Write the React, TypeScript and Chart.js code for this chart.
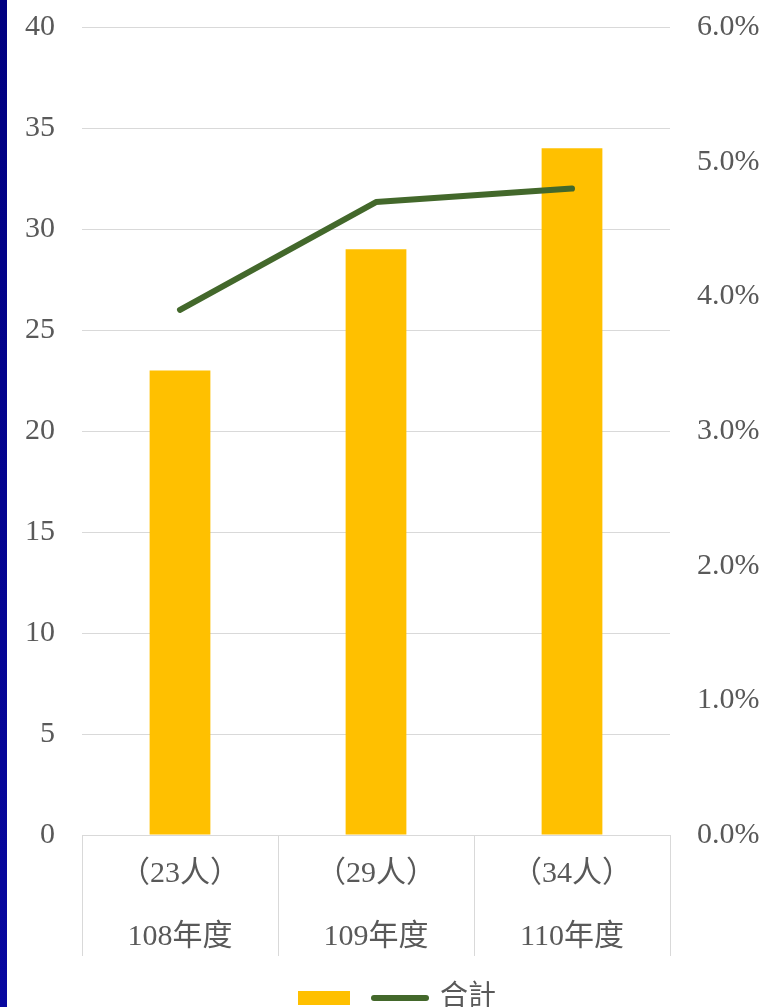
import React, { useEffect, useRef } from 'react';
import { Chart, registerables } from 'chart.js';

Chart.register(...registerables);

const years = ['108年度', '109年度', '110年度'];
const headcounts = [23, 29, 34];
const ratePercent = [3.9, 4.7, 4.8];
const lineLabel = '合計';
const leftMax = 40;
const leftStep = 5;
const rightMax = 6;
const rightStep = 1;

const FONT = "'Liberation Serif', 'Noto Sans CJK TC', serif";
const TEXT = '#595959';
const GRID = '#d9d9d9';
const BAR = '#ffc000';
const LINE = '#43682b';

export default function App() {
  const ref = useRef<HTMLCanvasElement | null>(null);

  useEffect(() => {
    if (!ref.current) return;
    const labels = years.map((y, i) => [`（${headcounts[i]}人）`, y]);
    const chart = new Chart(ref.current, {
      type: 'bar',
      data: {
        labels,
        datasets: [
          {
            type: 'bar',
            label: '',
            data: headcounts,
            backgroundColor: BAR,
            borderWidth: 0,
            barPercentage: 0.31,
            categoryPercentage: 1,
            yAxisID: 'y',
            order: 1,
          },
          {
            type: 'line',
            label: lineLabel,
            data: ratePercent,
            borderColor: LINE,
            backgroundColor: LINE,
            borderWidth: 6,
            borderCapStyle: 'round',
            borderJoinStyle: 'round',
            pointRadius: 0,
            tension: 0,
            yAxisID: 'y1',
            order: 0,
          } as any,
        ],
      },
      options: {
        responsive: false,
        animation: false,
        devicePixelRatio: 1,
        layout: { padding: { left: 20, right: -10, top: 27, bottom: 0 } },
        plugins: {
          tooltip: { enabled: false },
          legend: {
            position: 'bottom',
            labels: {
              usePointStyle: true,
              pointStyleWidth: 52,
              boxHeight: 14,
              padding: 10,
              color: TEXT,
              font: { size: 28, family: FONT },
              generateLabels: () => [
                {
                  text: '',
                  fillStyle: BAR,
                  strokeStyle: BAR,
                  fontColor: TEXT,
                  lineWidth: 0,
                  pointStyle: 'rect',
                  datasetIndex: 0,
                  hidden: false,
                } as any,
                {
                  text: lineLabel,
                  fillStyle: 'rgba(0,0,0,0)',
                  strokeStyle: LINE,
                  fontColor: TEXT,
                  lineWidth: 6,
                  lineCap: 'round',
                  pointStyle: 'line',
                  datasetIndex: 1,
                  hidden: false,
                } as any,
              ],
            },
          },
        },
        scales: {
          x: {
            grid: {
              display: true,
              offset: true,
              drawOnChartArea: false,
              drawTicks: true,
              tickLength: 121,
              color: GRID,
              lineWidth: 1,
            },
            border: { display: true, color: GRID, width: 1 },
            ticks: {
              autoSkip: false,
              maxRotation: 0,
              minRotation: 0,
              padding: -113,
              color: TEXT,
              font: { size: 30, family: FONT, lineHeight: 2.1 },
            },
            afterFit: (s: any) => {
              s.height = 139;
            },
          },
          y: {
            position: 'left',
            min: 0,
            max: leftMax,
            grid: { color: GRID, lineWidth: 1, drawTicks: false },
            border: { display: false },
            ticks: {
              stepSize: leftStep,
              padding: 27,
              color: TEXT,
              font: { size: 30, family: FONT },
            },
            afterFit: (s: any) => {
              s.width = 62;
              s.paddingTop = 0;
              s.paddingBottom = 0;
            },
          },
          y1: {
            position: 'right',
            min: 0,
            max: rightMax,
            grid: { drawOnChartArea: false, drawTicks: false },
            border: { display: false },
            ticks: {
              stepSize: rightStep,
              padding: 27,
              color: TEXT,
              font: { size: 30, family: FONT },
              callback: (v: any) => Number(v).toFixed(1) + '%',
            },
            afterFit: (s: any) => {
              s.width = 104;
              s.paddingTop = 0;
              s.paddingBottom = 0;
            },
          },
        },
      },
    });
    return () => chart.destroy();
  }, []);

  return (
    <div style={{ position: 'fixed', inset: 0, overflow: 'hidden', background: '#fff' }}>
      <canvas ref={ref} width={764} height={1022} style={{ display: 'block', width: 764, height: 1022 }} />
      <div
        style={{
          position: 'absolute',
          left: 0,
          top: 0,
          width: 7,
          height: '100%',
          background: 'linear-gradient(#000080, #0808a0)',
        }}
      />
    </div>
  );
}
